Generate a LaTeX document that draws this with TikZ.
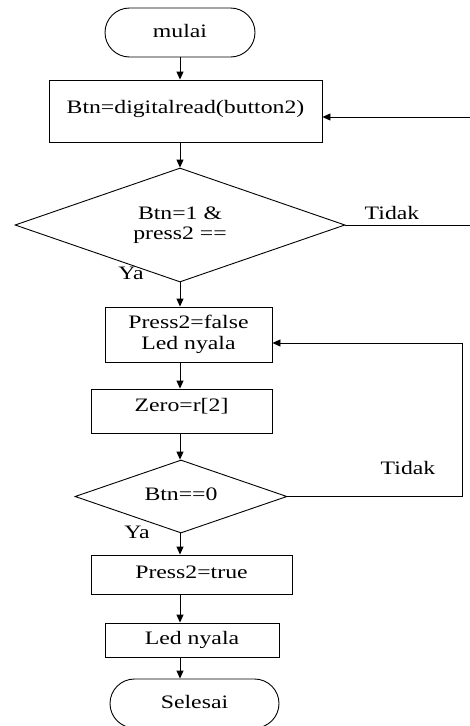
\documentclass[tikz,border=0pt]{standalone}
\usepackage{fontspec}
\setmainfont{Liberation Serif}[FakeStretch=1.25]
\usetikzlibrary{shapes.geometric,shapes.misc,arrows.meta}
\begin{document}
\begin{tikzpicture}[x=1pt,y=-1pt,
  font=\fontsize{19}{20.5}\selectfont,
  line width=0.9pt,
  arr/.style={-{Triangle[length=8pt,width=7pt]}},
  proc/.style={draw,rectangle,inner sep=0pt,align=center},
  term/.style={draw,rounded rectangle,inner sep=0pt},
  decision/.style={draw,diamond,inner sep=0pt,align=center,aspect=2.9},
  lift/.style={text height=13.5pt,text depth=#1}]
\fill[white] (0,0) rectangle (470,726);
\useasboundingbox (0,0) rectangle (470,726);
\clip (0,0) rectangle (470,726);

% main column
\node[term,minimum width=150pt,minimum height=49pt,lift=4.5pt] (mulai) at (180,32.5) {mulai};
\node[proc,minimum width=273pt,minimum height=62pt,lift=8.5pt] (read) at (185.5,111) {Btn=digitalread(button2)};
\node[decision,minimum width=330pt,minimum height=114pt] (cek1) at (180,225) {Btn=1 \&\\[-1pt]press2 ==};
\node[proc,minimum width=167pt,minimum height=55pt] (nyala1) at (188.5,334.5) {Press2=false\\Led nyala};
\node[proc,minimum width=181pt,minimum height=44pt,lift=12.5pt] (zero) at (181.5,411) {Zero=r[2]};
\node[decision,minimum width=212pt,minimum height=73pt,lift=6.5pt] (cek2) at (181,496.5) {Btn==0};
\node[proc,minimum width=201pt,minimum height=39pt,lift=5.5pt] (press) at (191.5,574.5) {Press2=true};
\node[proc,minimum width=174pt,minimum height=34pt,lift=4.5pt] (nyala2) at (192,640) {Led nyala};
\node[term,minimum width=169pt,minimum height=49pt,lift=3.5pt] (selesai) at (194.5,703.5) {Selesai};

% branch labels
\node (tidak1) at (392,213) {Tidak};
\node (ya1) at (131,273) {Ya};
\node (tidak2) at (408,468) {Tidak};
\node (ya2) at (137,532) {Ya};

% loop corners
\coordinate (loop1) at (476,225);
\coordinate (loop2) at (462,343);

% connectors
\draw[arr] (mulai.south) -- (mulai.south |- read.north);
\draw[arr] (mulai.south |- read.south) -- (cek1.north);
\draw[arr] (cek1.south) -- (cek1.south |- nyala1.north);
\draw[arr] (cek1.south |- nyala1.south) -- (cek1.south |- zero.north);
\draw[arr] (cek1.south |- zero.south) -- (cek1.south |- cek2.north);
\draw[arr] (cek1.south |- cek2.south) -- (cek1.south |- press.north);
\draw[arr] (cek1.south |- press.south) -- (cek1.south |- nyala2.north);
\draw[arr] (cek1.south |- nyala2.south) -- (cek1.south |- selesai.north);
\draw[arr] (cek1.east) -- (cek1.east -| loop1) |- ([yshift=-6pt]read.east);
\draw[arr] (cek2.east) -| (loop2) -- (loop2 -| nyala1.east);
\end{tikzpicture}
\end{document}
